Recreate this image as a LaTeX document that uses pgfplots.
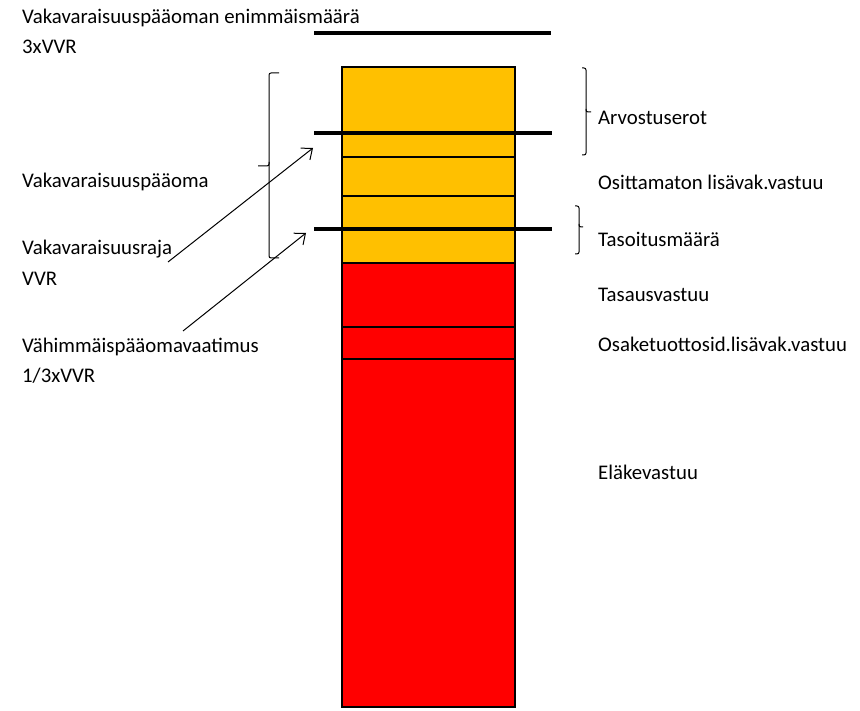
\documentclass[border=0pt]{standalone}
\usepackage{fontspec}
\setmainfont{Carlito}
\usepackage{pgfplots}
\pgfplotsset{compat=1.18}
\usetikzlibrary{arrows.meta}
\definecolor{goldy}{HTML}{FFC000}
\definecolor{redy}{HTML}{FF0000}
\pgfplotsset{base/.style={
  width=860pt, height=710pt, scale only axis,
  xmin=0, xmax=860, ymin=-3, ymax=707,
  hide axis, clip=false}}
\begin{document}
\begin{tikzpicture}[font=\fontsize{20.8}{25}\selectfont]
\begin{axis}[base, ybar stacked, bar width=173]
\path (rel axis cs:0,0) rectangle (rel axis cs:1,1);
% segments, bottom to top
\addplot[fill=redy, draw=black, line width=1.6pt] coordinates {(428.5,348)}; % Eläkevastuu
\addplot[fill=redy, draw=black, line width=1.6pt] coordinates {(428.5,32)};  % Osaketuottosid.lisävak.vastuu
\addplot[fill=redy, draw=black, line width=1.6pt] coordinates {(428.5,64)};  % Tasausvastuu
\addplot[fill=goldy, draw=black, line width=1.6pt] coordinates {(428.5,67)}; % Tasoitusmäärä
\addplot[fill=goldy, draw=black, line width=1.6pt] coordinates {(428.5,39)}; % Osittamaton lisävak.vastuu
\addplot[fill=goldy, draw=black, line width=1.6pt] coordinates {(428.5,90)}; % Arvostuserot
\end{axis}
\begin{axis}[base]
% threshold lines
\addplot[black, line width=4pt, no markers] coordinates {(314,674) (551,674)};
\addplot[black, line width=4pt, no markers] coordinates {(314,574) (552,574)};
\addplot[black, line width=4pt, no markers] coordinates {(314,477.5) (552,477.5)};

% braces
\draw[line width=1pt, rounded corners=2pt] (279,634) -| (269,541) -- (258,541);
\draw[line width=1pt, rounded corners=2pt] (269,545) |- (279,449);
\draw[line width=1pt, rounded corners=2pt] (582,639) -| (586,595) -- (591,595);
\draw[line width=1pt, rounded corners=2pt] (586,598) |- (582,552);
\draw[line width=1pt, rounded corners=2pt] (575,501) -| (579,480) -- (583,480);
\draw[line width=1pt, rounded corners=2pt] (579,483) |- (575,453);

% arrows
\draw[line width=1pt, -{Straight Barb[length=9pt,width=15pt]}] (168,445) -- (313,559);
\draw[line width=1pt, -{Straight Barb[length=9pt,width=15pt]}] (183,376) -- (306,474);

% left labels
\node[anchor=base west, inner sep=0pt] at (22,683) {Vakavaraisuuspääoman enimmäismäärä};
\node[anchor=base west, inner sep=0pt] at (22,653) {3xVVR};
\node[anchor=base west, inner sep=0pt] at (22,519) {Vakavaraisuuspääoma};
\node[anchor=base west, inner sep=0pt] at (22,452) {Vakavaraisuusraja};
\node[anchor=base west, inner sep=0pt] at (22,421) {VVR};
\node[anchor=base west, inner sep=0pt] at (22,354) {Vähimmäispääomavaatimus};
\node[anchor=base west, inner sep=0pt] at (22,324) {1/3xVVR};
% right labels
\node[anchor=base west, inner sep=0pt] at (598,582) {Arvostuserot};
\node[anchor=base west, inner sep=0pt] at (598,517) {Osittamaton lisävak.vastuu};
\node[anchor=base west, inner sep=0pt] at (598,460) {Tasoitusmäärä};
\node[anchor=base west, inner sep=0pt] at (598,405) {Tasausvastuu};
\node[anchor=base west, inner sep=0pt] at (598,355) {Osaketuottosid.lisävak.vastuu};
\node[anchor=base west, inner sep=0pt] at (598,227) {Eläkevastuu};
\end{axis}
\end{tikzpicture}
\end{document}
